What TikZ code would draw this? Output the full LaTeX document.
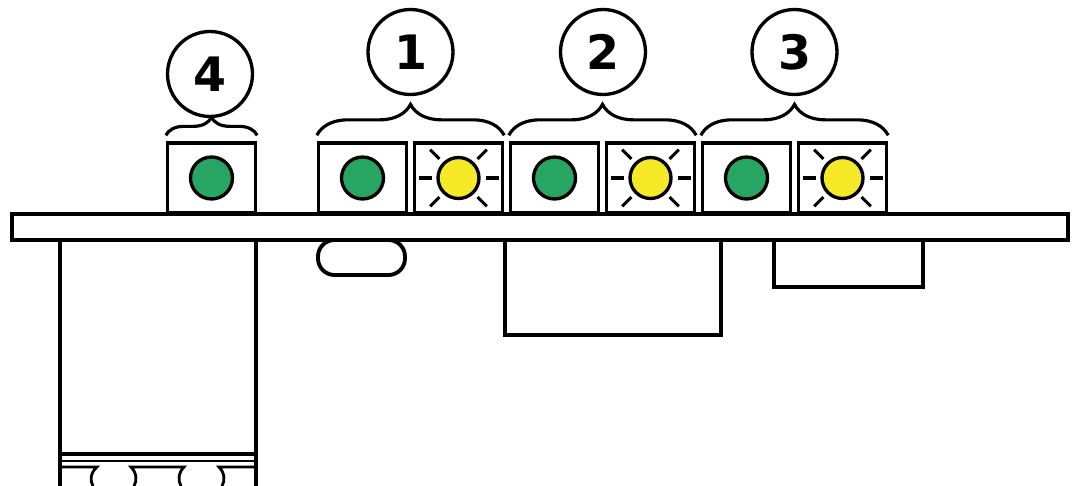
\documentclass[tikz,border=0pt]{standalone}
\usepackage{fontspec}
\setsansfont{DejaVu Sans}
\usetikzlibrary{shapes,decorations.pathreplacing}
\definecolor{led_green}{RGB}{38, 166, 98}
\definecolor{led_yellow}{RGB}{246, 234, 40}
\tikzstyle{box}=[rectangle,fill=white,draw=black,
  line width=1.9 pt,inner sep=0pt,minimum width=1.76cm,minimum height=1.4cm]
\tikzstyle{gl}=[circle,fill=led_green,draw=black,
  line width=1.9 pt,inner sep=0pt,minimum size=0.84cm]
\tikzstyle{yl}=[circle,fill=led_yellow,draw=black,
  line width=1.9 pt,inner sep=0pt,minimum size=0.82cm]
\tikzstyle{num}=[circle,draw=black,line width=1.9 pt,inner sep=0pt,
  minimum size=1.7cm,font=\sffamily\bfseries\fontsize{27}{27}\selectfont]
\tikzstyle{part}=[draw=black,line width=2.2 pt]
\tikzstyle{ray}=[draw=black,line width=1.8 pt]
\tikzstyle{grp}=[decorate,draw=black,line width=1.8 pt]

\begin{document}
\begin{tikzpicture}[x=0.02cm,y=-0.02cm]
    \useasboundingbox (0,0) rectangle (1072,486);
    % board and parts below it
    \draw [style=part] (12,214) rectangle (1068,240);
    \draw [style=part] (60,240) -- (60,486);
    \draw [style=part] (256,240) -- (256,486);
    \draw [style=part,line width=2.4 pt] (60,454) -- (256,454);
    \draw [style=part,line width=1.6 pt] (60,461) -- (256,461);
    \draw [style=part,line width=1.6 pt] (60,467) -- (97,467)
      .. controls (90,473) and (90,481) .. (93,486);
    \draw [style=part,line width=1.6 pt] (134,486)
      .. controls (137,481) and (137,473) .. (131,467) -- (184,467)
      .. controls (178,473) and (178,481) .. (181,486);
    \draw [style=part,line width=1.6 pt] (222,486)
      .. controls (225,481) and (225,473) .. (219,467) -- (256,467);
    \draw [style=part,rounded corners=0.33cm] (318,240) rectangle (405,275);
    \draw [style=part] (505,240) rectangle (721,335);
    \draw [style=part] (774,240) rectangle (923,287);
    % housings
    \node [style=box] (b4) at (211.5,178) {};
    \node [style=box] (b1a) at (362.5,178) {};
    \node [style=box] (b1b) at (458.5,178) {};
    \node [style=box] (b2a) at (554.5,178) {};
    \node [style=box] (b2b) at (650.5,178) {};
    \node [style=box] (b3a) at (746.5,178) {};
    \node [style=box] (b3b) at (842.5,178) {};
    % leds
    \node [style=gl] (g4) at (b4) {};
    \node [style=gl] (g1) at (b1a) {};
    \node [style=gl] (g2) at (b2a) {};
    \node [style=gl] (g3) at (b3a) {};
    \node [style=yl] (y1) at (b1b) {};
    \node [style=yl] (y2) at (b2b) {};
    \node [style=yl] (y3) at (b3b) {};
    \foreach \l in {y1,y2,y3}
      \foreach \a in {0,45,135,180,225,315}
        \draw [style=ray] (\l.center) ++(\a:27) -- ++(\a:13);
    % braces
    \draw [style=grp,decoration={brace,amplitude=0.36cm}]
      ([yshift=0.12cm]b4.north west) -- ([yshift=0.12cm]b4.north east);
    \draw [style=grp,decoration={brace,amplitude=0.62cm}]
      ([yshift=0.12cm]b1a.north west) -- ([yshift=0.12cm]b1b.north east);
    \draw [style=grp,decoration={brace,amplitude=0.62cm}]
      ([yshift=0.12cm]b2a.north west) -- ([yshift=0.12cm]b2b.north east);
    \draw [style=grp,decoration={brace,amplitude=0.62cm}]
      ([yshift=0.12cm]b3a.north west) -- ([yshift=0.12cm]b3b.north east);
    % callouts
    \node [style=num] (n4) at (210,74) {4};
    \node [style=num] (n1) at (410.5,52) {1};
    \node [style=num] (n2) at (603,52) {2};
    \node [style=num] (n3) at (794.5,52) {3};
\end{tikzpicture}
\end{document}
